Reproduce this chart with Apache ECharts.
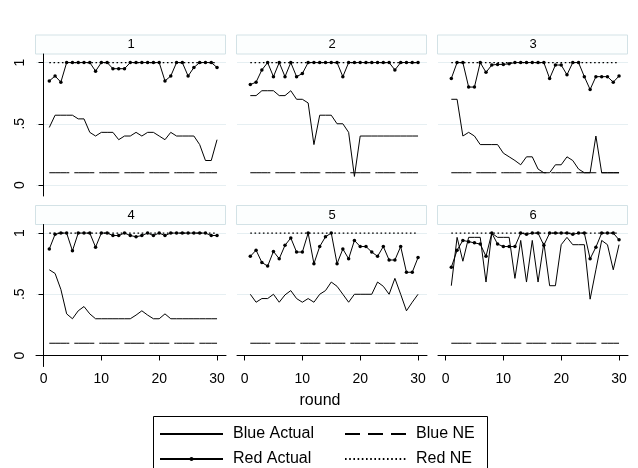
<!DOCTYPE html>
<html>
<head>
<meta charset="utf-8">
<script src="https://cdn.jsdelivr.net/npm/echarts@6/dist/echarts.min.js"></script>
<style>
  html, body { margin: 0; padding: 0; background: #fff; }
  #main { width: 638px; height: 468px; }
</style>
</head>
<body>
<div id="main"></div>
<script>
var ROUNDS = [1, 2, 3, 4, 5, 6, 7, 8, 9, 10, 11, 12, 13, 14, 15, 16, 17, 18, 19, 20, 21, 22, 23, 24, 25, 26, 27, 28, 29, 30];
var PANELS = ["1", "2", "3", "4", "5", "6"];

var BLUE_ACTUAL = [
  [0.47, 0.57, 0.57, 0.57, 0.57, 0.54, 0.54, 0.43, 0.40, 0.43, 0.43, 0.43, 0.37, 0.40, 0.40, 0.43, 0.40, 0.43, 0.43, 0.40, 0.37, 0.43, 0.40, 0.40, 0.40, 0.40, 0.33, 0.20, 0.20, 0.37],
  [0.73, 0.73, 0.77, 0.77, 0.77, 0.73, 0.73, 0.77, 0.70, 0.70, 0.67, 0.33, 0.57, 0.57, 0.57, 0.50, 0.50, 0.43, 0.07, 0.40, 0.40, 0.40, 0.40, 0.40, 0.40, 0.40, 0.40, 0.40, 0.40, 0.40],
  [0.70, 0.70, 0.40, 0.43, 0.40, 0.33, 0.33, 0.33, 0.33, 0.26, 0.23, 0.20, 0.165, 0.23, 0.23, 0.13, 0.10, 0.10, 0.165, 0.165, 0.23, 0.20, 0.13, 0.10, 0.10, 0.40, 0.10, 0.10, 0.10, 0.10],
  [0.70, 0.67, 0.54, 0.34, 0.30, 0.365, 0.40, 0.34, 0.30, 0.30, 0.30, 0.30, 0.30, 0.30, 0.30, 0.33, 0.365, 0.33, 0.30, 0.30, 0.34, 0.30, 0.30, 0.30, 0.30, 0.30, 0.30, 0.30, 0.30, 0.30],
  [0.50, 0.435, 0.465, 0.465, 0.50, 0.435, 0.495, 0.53, 0.465, 0.435, 0.465, 0.435, 0.50, 0.53, 0.60, 0.565, 0.50, 0.435, 0.50, 0.50, 0.50, 0.50, 0.60, 0.565, 0.50, 0.63, 0.50, 0.365, 0.435, 0.50],
  [0.57, 0.965, 0.77, 0.965, 0.965, 0.965, 0.60, 1, 0.965, 0.965, 0.965, 0.63, 0.94, 0.60, 0.94, 0.60, 0.92, 0.57, 0.57, 0.905, 0.965, 0.905, 0.905, 0.905, 0.46, 0.70, 0.94, 0.905, 0.70, 0.905]
];

var RED_ACTUAL = [
  [0.85, 0.89, 0.84, 1, 1, 1, 1, 1, 0.93, 1, 1, 0.95, 0.95, 0.95, 1, 1, 1, 1, 1, 1, 0.85, 0.89, 1, 1, 0.89, 0.96, 1, 1, 1, 0.96],
  [0.82, 0.84, 0.94, 1, 0.885, 1, 0.885, 1, 0.885, 0.91, 1, 1, 1, 1, 1, 1, 0.885, 1, 1, 1, 1, 1, 1, 1, 1, 0.94, 1, 1, 1, 1],
  [0.87, 1, 1, 0.80, 0.80, 1, 0.92, 0.98, 0.985, 0.985, 0.99, 1, 1, 1, 1, 1, 1, 0.87, 0.98, 0.98, 0.90, 1, 1, 0.885, 0.78, 0.885, 0.885, 0.885, 0.84, 0.89],
  [0.87, 0.99, 1, 1, 0.855, 1, 1, 1, 0.885, 1, 1, 0.98, 0.98, 1, 0.98, 0.97, 0.98, 1, 0.98, 1, 0.98, 1, 1, 1, 1, 1, 1, 1, 0.98, 0.98],
  [0.81, 0.86, 0.76, 0.73, 0.85, 0.79, 0.90, 0.96, 0.845, 0.845, 1, 0.75, 0.89, 0.97, 1, 0.75, 0.87, 0.79, 0.94, 0.89, 0.89, 0.845, 0.81, 0.89, 0.78, 0.78, 0.89, 0.68, 0.68, 0.80],
  [0.72, 0.86, 0.94, 0.93, 0.92, 0.91, 0.81, 1, 0.91, 0.89, 0.89, 0.89, 1, 0.99, 1, 1, 0.90, 1, 1, 1, 1, 0.99, 1, 1, 0.79, 0.885, 1, 1, 1, 0.945]
];

// equilibrium levels per panel
var BLUE_NE = [0.1, 0.1, 0.1, 0.1, 0.1, 0.1];
var RED_NE = [1, 1, 1, 1, 1, 1];

var X_TICKS = [0, 10, 20, 30];
var Y_TICKS = [0, 0.5, 1];
var Y_TICK_LABELS = ["0", ".5", "1"];

var FONT = "Liberation Sans";
var PANEL_LEFT = [36, 237, 438];
var PANEL_TOP = [54, 224.5];
var PANEL_W = 190;
var PANEL_H = 142;
var HEAD_H = 19;

var myChart = echarts.init(document.getElementById('main'));

function pairs(values) {
  return ROUNDS.map(function (r, i) { return [r, values[i]]; });
}

function flat(level) {
  return ROUNDS.map(function (r) { return [r, level]; });
}

function buildOption() {
  var grids = [], xAxes = [], yAxes = [], series = [], graphics = [];
  PANELS.forEach(function (name, i) {
    var col = i % 3, row = Math.floor(i / 3);
    var left = PANEL_LEFT[col], top = PANEL_TOP[row];
    grids.push({ left: left, top: top, width: PANEL_W, height: PANEL_H });

    // panel header strip
    graphics.push({
      type: 'rect',
      shape: { x: left - 0.5, y: top - HEAD_H, width: PANEL_W, height: HEAD_H },
      style: { fill: '#fcfefe', stroke: '#d3e2e6', lineWidth: 1 },
      silent: true
    });
    graphics.push({
      type: 'text',
      x: left + PANEL_W / 2, y: top - HEAD_H / 2,
      style: { text: name, fill: '#000', font: '13px "' + FONT + '"', align: 'center', verticalAlign: 'middle' },
      silent: true
    });

    xAxes.push({
      gridIndex: i, type: 'value', min: -1.3, max: 31.55,
      show: row === 1,
      axisLine: { lineStyle: { color: '#000', width: 1 } },
      axisTick: { length: 5, lineStyle: { color: '#000' }, customValues: X_TICKS },
      axisLabel: { customValues: X_TICKS, color: '#000', fontFamily: FONT, fontSize: 14, margin: 6 },
      splitLine: { show: false }
    });

    yAxes.push({
      gridIndex: i, type: 'value', min: -0.09, max: 1.07,
      axisLine: { show: col === 0, lineStyle: { color: '#000', width: 1 } },
      axisTick: { show: col === 0, length: 5, lineStyle: { color: '#000' }, customValues: Y_TICKS },
      axisLabel: {
        show: col === 0, customValues: Y_TICKS, rotate: 90, margin: 9,
        color: '#000', fontFamily: FONT, fontSize: 14,
        formatter: function (v) { return Y_TICK_LABELS[Y_TICKS.indexOf(v)]; }
      },
      splitLine: { show: true, lineStyle: { color: '#e6eff2', width: 1 } }
    });

    series.push({
      name: 'Blue NE', type: 'line', xAxisIndex: i, yAxisIndex: i,
      data: flat(BLUE_NE[i]), symbol: 'none',
      lineStyle: { color: '#000', width: 1, type: [20, 5] }
    });
    series.push({
      name: 'Red NE', type: 'line', xAxisIndex: i, yAxisIndex: i,
      data: flat(RED_NE[i]), symbol: 'none',
      lineStyle: { color: '#000', width: 1.3, type: [1.6, 2.6] }
    });
    series.push({
      name: 'Blue Actual', type: 'line', xAxisIndex: i, yAxisIndex: i,
      data: pairs(BLUE_ACTUAL[i]), symbol: 'none',
      lineStyle: { color: '#000', width: 1 }
    });
    series.push({
      name: 'Red Actual', type: 'line', xAxisIndex: i, yAxisIndex: i,
      data: pairs(RED_ACTUAL[i]), symbol: 'circle', symbolSize: 3.5,
      itemStyle: { color: '#000' },
      lineStyle: { color: '#000', width: 1 }
    });
  });

  // legend frame and x title
  graphics.push({
    type: 'rect',
    shape: { x: 153.5, y: 416.5, width: 334, height: 60 },
    style: { fill: '#fff', stroke: '#000', lineWidth: 1 },
    silent: true, z: -1
  });
  graphics.push({
    type: 'text', x: 320, y: 401,
    style: { text: 'round', fill: '#000', font: '16px "' + FONT + '"', align: 'center', verticalAlign: 'middle' },
    silent: true
  });

  var legendBase = {
    orient: 'vertical', top: 426, itemHeight: 5, itemGap: 9, padding: 0,
    textStyle: { color: '#000', fontFamily: FONT, fontSize: 16, lineHeight: 16, padding: [0, 0, 0, 5] },
    selectedMode: false
  };

  return {
    animation: false,
    backgroundColor: '#fff',
    grid: grids,
    xAxis: xAxes,
    yAxis: yAxes,
    series: series,
    graphic: graphics,
    legend: [
      echarts.util.merge({
        left: 159, itemWidth: 63,
        data: [
          { name: 'Blue Actual', itemStyle: { opacity: 0 } },
          { name: 'Red Actual' }
        ]
      }, legendBase),
      echarts.util.merge({
        left: 344, itemWidth: 61,
        data: [
          { name: 'Blue NE', itemStyle: { opacity: 0 }, lineStyle: { type: [15, 8] } },
          { name: 'Red NE', itemStyle: { opacity: 0 } }
        ]
      }, legendBase)
    ]
  };
}

myChart.setOption(buildOption());
</script>
</body>
</html>
